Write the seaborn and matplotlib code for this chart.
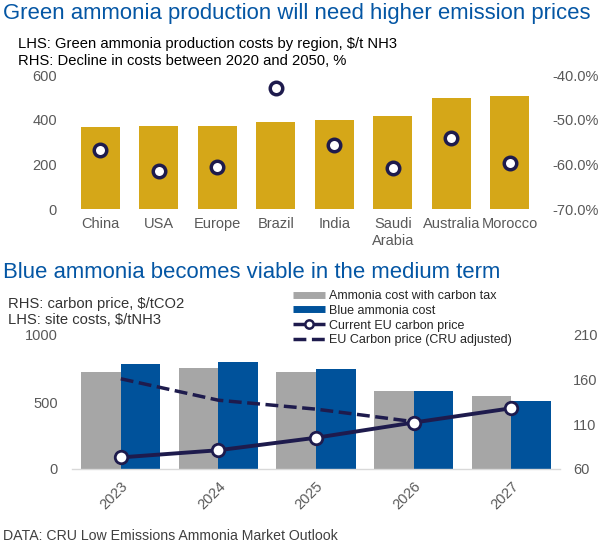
import numpy as np
import pandas as pd
import matplotlib
matplotlib.use("Agg")
import matplotlib.pyplot as plt
from matplotlib.lines import Line2D
from matplotlib.ticker import FuncFormatter
import seaborn as sns

# ---- data ----
regions = ["China", "USA", "Europe", "Brazil", "India", "Saudi\nArabia", "Australia", "Morocco"]
green_cost = [367, 373, 373, 391, 400, 418, 498, 507]
cost_decline = [-56.7, -61.4, -60.7, -42.8, -55.6, -60.9, -54.2, -59.7]

years = ["2023", "2024", "2025", "2026", "2027"]
cost_carbon_tax = [724, 754, 724, 582, 545]
blue_cost = [784, 799, 746, 582, 507]
eu_carbon_current = [73, 81, 95, 112, 128]
eu_carbon_cru = [161, 137, 127, 113, np.nan]

series_names = ["Ammonia cost with carbon tax", "Blue ammonia cost",
                "Current EU carbon price", "EU Carbon price (CRU adjusted)"]

# ---- style ----
sns.set_style("white")
plt.rcParams["font.family"] = ["Liberation Sans", "DejaVu Sans"]
GOLD = "#D5A718"
GRAY = "#A6A6A6"
BLUE = "#00529B"
NAVY = "#1E1B4D"
TITLE = "#0456A4"
TICK = "#595959"

fig = plt.figure(figsize=(6.02, 5.47), dpi=100)
W, H = 602, 547

def box(l, t, r, b):
    return [l / W, 1 - b / H, (r - l) / W, (b - t) / H]

# ---- top chart ----
ax1 = fig.add_axes(box(71, 75, 539, 209))
sns.barplot(x=regions, y=green_cost, color=GOLD, width=0.67, saturation=1,
            linewidth=0, ax=ax1)
ax1.set_ylim(0, 600)
ax1.set_yticks([0, 200, 400, 600])
ax1.set_xlim(-0.5, len(regions) - 0.5)
ax1r = ax1.twinx()
sns.pointplot(x=regions, y=cost_decline, linestyle="none", marker="o", color=NAVY,
              markersize=9, markeredgewidth=2.5, errorbar=None, ax=ax1r)
for ln in ax1r.lines:
    ln.set_markerfacecolor("white")
    ln.set_markeredgecolor(NAVY)
ax1r.set_ylim(-70, -40)
ax1r.set_yticks([-70, -60, -50, -40])
ax1r.yaxis.set_major_formatter(FuncFormatter(lambda v, p: f"{v:.1f}%"))
ax1r.set_xlim(-0.5, len(regions) - 0.5)

for a in (ax1, ax1r):
    for s in a.spines.values():
        s.set_visible(False)
    a.set_xlabel("")
    a.set_ylabel("")
    a.tick_params(axis="both", length=0, labelsize=10.5, colors=TICK)
ax1.tick_params(axis="x", pad=6)
ax1.tick_params(axis="y", pad=10)
ax1r.tick_params(axis="y", pad=9.5)

# ---- bottom chart ----
ax2 = fig.add_axes(box(72, 335, 560, 469))
df = pd.DataFrame({
    "year": years * 2,
    "value": cost_carbon_tax + blue_cost,
    "series": [series_names[0]] * len(years) + [series_names[1]] * len(years),
})
sns.barplot(data=df, x="year", y="value", hue="series", palette=[GRAY, BLUE],
            width=0.81, saturation=1, linewidth=0, legend=False, ax=ax2)
ax2.set_ylim(0, 1000)
ax2.set_yticks([0, 500, 1000])
ax2.set_xlim(-0.5, len(years) - 0.5)
ax2r = ax2.twinx()
sns.pointplot(x=years, y=eu_carbon_cru, order=years, color=NAVY, marker="",
              linestyles="--", linewidth=2.5, errorbar=None, ax=ax2r)
sns.pointplot(x=years, y=eu_carbon_current, order=years, color=NAVY, marker="o",
              markersize=9, markeredgewidth=2.0, linewidth=2.8, errorbar=None, ax=ax2r)
for ln in ax2r.lines:
    if ln.get_marker() == "o":
        ln.set_markerfacecolor("white")
        ln.set_markeredgecolor(NAVY)
ax2r.set_ylim(60, 210)
ax2r.set_yticks([60, 110, 160, 210])
ax2r.set_xlim(-0.5, len(years) - 0.5)

for a in (ax2, ax2r):
    for s in a.spines.values():
        s.set_visible(False)
    a.set_xlabel("")
    a.set_ylabel("")
    a.tick_params(axis="both", length=0, labelsize=10.5, colors=TICK)
ax2.tick_params(axis="y", pad=10)
ax2r.tick_params(axis="y", pad=9.5)
ax2.spines["bottom"].set_visible(True)
ax2.spines["bottom"].set_color("#D9D9D9")
ax2.spines["bottom"].set_linewidth(1)
for lab in ax2.get_xticklabels():
    lab.set_rotation(45)
    lab.set_ha("right")
    lab.set_rotation_mode("anchor")
ax2.tick_params(axis="x", pad=7)
ax2.set_zorder(1)
ax2r.set_zorder(2)
ax2.patch.set_visible(False)

handles = [
    Line2D([0], [0], color=GRAY, lw=5, solid_capstyle="butt"),
    Line2D([0], [0], color=BLUE, lw=5, solid_capstyle="butt"),
    Line2D([0], [0], color=NAVY, lw=2.5, marker="o", markersize=6,
           markerfacecolor="white", markeredgecolor=NAVY, markeredgewidth=1.8,
           solid_capstyle="butt"),
    Line2D([0], [0], color=NAVY, lw=2.5, ls="--", dash_capstyle="butt"),
]
fig.legend(handles, series_names, loc="upper left", bbox_to_anchor=(293 / W, 1 - 290 / H),
           frameon=False, fontsize=9, handlelength=2.55, handletextpad=0.35,
           labelspacing=0.22, borderaxespad=0, borderpad=0)

# ---- texts ----
fig.text(3 / W, 1 - 14 / H, "Green ammonia production will need higher emission prices",
         color=TITLE, fontsize=15.9, va="center", ha="left")
fig.text(18 / W, 1 - 44 / H, "LHS: Green ammonia production costs by region, $/t NH3",
         color="black", fontsize=10.6, va="center", ha="left")
fig.text(18 / W, 1 - 61 / H, "RHS: Decline in costs between 2020 and 2050, %",
         color="black", fontsize=10.6, va="center", ha="left")
fig.text(3 / W, 1 - 273 / H, "Blue ammonia becomes viable in the medium term",
         color=TITLE, fontsize=15.9, va="center", ha="left")
fig.text(8 / W, 1 - 304 / H, "RHS: carbon price, $/tCO2",
         color="#333333", fontsize=10.6, va="center", ha="left")
fig.text(8 / W, 1 - 320 / H, "LHS: site costs, $/tNH3",
         color="#333333", fontsize=10.6, va="center", ha="left")
fig.text(3 / W, 1 - 536 / H, "DATA: CRU Low Emissions Ammonia Market Outlook",
         color="#404040", fontsize=10.2, va="center", ha="left")

fig.savefig("out.png", dpi=100)
